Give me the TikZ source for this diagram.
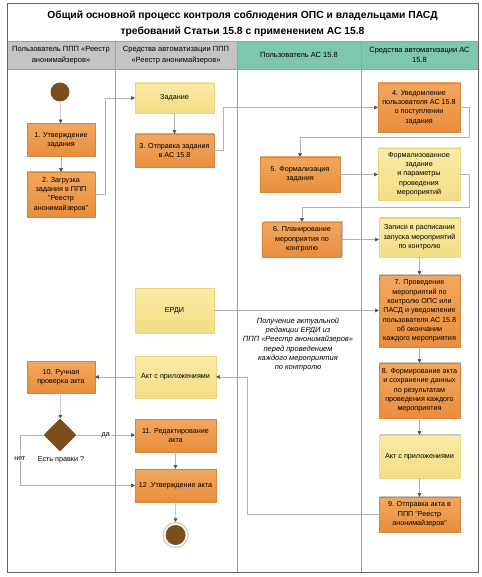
\documentclass[tikz,border=0pt]{standalone}
\usepackage{fontspec}
\setmainfont{Liberation Sans}
\usetikzlibrary{arrows.meta,shapes.geometric,shadows}
\definecolor{orgtop}{HTML}{F2A75E}
\definecolor{orgbot}{HTML}{E88E3E}
\definecolor{orgline}{HTML}{D98436}
\definecolor{yeltop}{HTML}{FAEBA6}
\definecolor{yelbot}{HTML}{F4DC84}
\definecolor{yelline}{HTML}{EBD47E}
\definecolor{brownc}{HTML}{7A4E1E}
\definecolor{hdrgrey}{HTML}{C4C4C4}
\definecolor{hdrteal}{HTML}{80C6AE}
\definecolor{laneline}{HTML}{A0A0A0}
\definecolor{connline}{HTML}{B0B0B0}
\definecolor{tipcol}{HTML}{505050}
\begin{document}
\begin{tikzpicture}[x=1pt,y=-1pt,
  txt/.style={font=\fontsize{7.2}{9.3}\selectfont, align=center},
  obox/.style={txt, draw=orgline, line width=0.4pt, top color=orgtop, bottom color=orgbot, inner sep=1pt},
  ybox/.style={txt, draw=yelline, line width=0.4pt, top color=yeltop, bottom color=yelbot, inner sep=1pt},
  dshad/.style={drop shadow={shadow xshift=1.3pt, shadow yshift=1.3pt, fill=gray!55, opacity=0.8}},
  conn/.style={draw=connline, line width=0.5pt, -{Triangle[width=3.6pt,length=3.6pt,color=tipcol]}},
  hdr/.style={font=\fontsize{7.5}{10.5}\selectfont, align=center},
  lbl/.style={font=\fontsize{7.2}{9}\selectfont, inner sep=1pt, fill=white}
]
\useasboundingbox (0,0) rectangle (481,577);
% frame
\fill[white] (7,3) rectangle (478,572);
\fill[hdrgrey] (7,41) rectangle (237,69);
\fill[hdrteal] (237,41) rectangle (478,69);
\draw[laneline, line width=0.5pt] (7,41) -- (478,41);
\draw[laneline, line width=0.5pt] (7,69) -- (478,69);
\foreach \xx in {115,237,361} \draw[laneline, line width=0.6pt] (\xx,41) -- (\xx,572);
\draw[gray!80!black, line width=0.7pt] (7,3) rectangle (478,572);
% title
\node[font=\bfseries\fontsize{10.3}{15.5}\selectfont, align=center] (title) at (242.5,23.5)
  {Общий основной процесс контроля соблюдения ОПС и владельцами ПАСД\\требований Статьи 15.8 с применением АС 15.8};
% headers
\node[hdr] (h1) at (61,55) {Пользователь ППП «Реестр\\анонимайзеров»};
\node[hdr] (h2) at (176,55) {Средства автоматизации ППП\\«Реестр анонимайзеров»};
\node[hdr] (h3) at (299,55) {Пользователь АС 15.8};
\node[hdr] (h4) at (419.5,55) {Средства автоматизации АС\\15.8};
% nodes
\node[circle, fill=brownc, minimum size=19pt, inner sep=0pt] (start) at (60,92) {};
\node[obox, minimum width=68pt, minimum height=33pt] (n1) at (61,140) {1. Утверждение\\задания};
\node[obox, minimum width=68pt, minimum height=45pt] (n2) at (61,194.5) {2. Загрузка\\задания в ППП\\"Реестр\\анонимайзеров"};
\node[ybox, minimum width=79pt, minimum height=30pt] (zad) at (174.5,98) {Задание};
\node[obox, minimum width=79pt, minimum height=33pt] (n3) at (174.5,150.5) {3. Отправка задания\\в АС 15.8};
\node[obox, dshad, minimum width=82pt, minimum height=49pt] (n4) at (419,107.5) {4. Уведомление\\пользователя АС 15.8\\о поступлении\\задания};
\node[obox, dshad, minimum width=80pt, minimum height=35pt] (n5) at (300,174.5) {5. Формализация\\задания};
\node[ybox, dshad, minimum width=82pt, minimum height=52pt] (formal) at (419,174) {Формализованное\\задание\\и параметры\\проведения\\мероприятий};
\node[obox, dshad, minimum width=79pt, minimum height=35pt] (n6) at (302,239.5) {6. Планирование\\мероприятия по\\контролю};
\node[ybox, dshad, minimum width=81pt, minimum height=39pt] (zap) at (419.5,237.5) {Записи в расписании\\запуска мероприятий\\по контролю};
\node[obox, dshad, minimum width=81pt, minimum height=72pt] (n7) at (419.5,311) {7. Проведение\\мероприятий по\\контролю ОПС или\\ПАСД и уведомление\\пользователя АС 15.8\\об окончании\\каждого мероприятия};
\node[obox, dshad, minimum width=81pt, minimum height=55pt] (n8) at (419.5,390.5) {8. Формирование акта\\и сохранение данных\\по результатам\\проведения каждого\\мероприятия};
\node[ybox, minimum width=79pt, minimum height=45pt] (erdi) at (174.5,310.5) {ЕРДИ};
\node[ybox, minimum width=81pt, minimum height=42pt] (akt2) at (175.5,377) {Акт с приложениями};
\node[obox, minimum width=68pt, minimum height=32pt] (n10) at (61,377) {10. Ручная\\проверка акта};
\node[diamond, fill=brownc, minimum width=33pt, minimum height=33pt, inner sep=0pt] (dia) at (60,435) {};
\node[txt] (diatxt) at (61,460) {Есть правки ?};
\node[obox, minimum width=81pt, minimum height=33pt] (n11) at (175.5,435.5) {11. Редактирование\\акта};
\node[obox, minimum width=81pt, minimum height=33pt] (n12) at (175.5,485.5) {12 .Утверждение акта};
\node[circle, draw=gray!40, line width=1.2pt, fill=white, minimum size=25pt, inner sep=0pt] (endring) at (175.6,535) {};
\node[circle, fill=brownc, minimum size=20pt, inner sep=0pt] (endc) at (175.6,535) {};
\node[ybox, dshad, minimum width=81pt, minimum height=43pt] (akt4) at (419.5,456.5) {Акт с приложениями};
\node[obox, dshad, minimum width=81pt, minimum height=35pt] (n9) at (419.5,514.5) {9. Отправка акта в\\ППП "Реестр\\анонимайзеров"};
\node[txt, font=\itshape\fontsize{7.5}{9.1}\selectfont] (note) at (298,344.5) {Получение актуальной\\редакции ЕРДИ из\\ППП «Реестр анонимайзеров»\\перед проведением\\каждого мероприятия\\по контролю};
% helper coordinates
\coordinate (c2z) at (105,194.5);
\coordinate (c34) at (223,150.5);
\coordinate (c45) at (469,137);
\coordinate (cf6) at (469,207);
\coordinate (c92) at (247,514.5);
\coordinate (cno) at (20,485.5);
% connectors
\draw[conn] (start) -- (n1);
\draw[conn] (n1) -- (n2);
\draw[conn] (n2.east) -- (c2z) |- (zad.west);
\draw[conn] (zad) -- (n3);
\draw[conn] (n3.east) -- (c34) |- (n4.west);
\draw[conn] (n4.east) -| (c45) -| (n5.north);
\draw[conn] (n5.east) -- (n5.east -| formal.west);
\draw[conn] (formal.east) -| (cf6) -| (n6.north);
\draw[conn] (n6.east) -- (n6.east -| zap.west);
\draw[conn] (zap) -- (n7);
\draw[conn] (erdi.east) -- (erdi.east -| n7.west);
\draw[conn] (n7) -- (n8);
\draw[conn] (n8) -- (akt4);
\draw[conn] (akt4) -- (n9);
\draw[conn] (n9.west) -- (c92) |- (akt2.east);
\draw[conn] (akt2.west) -- (n10.east);
\draw[conn] (n10) -- (dia);
\draw[conn] (dia.east) -- node[lbl, pos=0.5] {да} (n11.west |- dia.east);
\draw[conn] (dia.west) -| (cno) node[lbl, pos=0.73] {нет} -- (n12.west);
\draw[conn] (n11) -- (n12);
\draw[conn] (n12) -- (endring);
\end{tikzpicture}
\end{document}
